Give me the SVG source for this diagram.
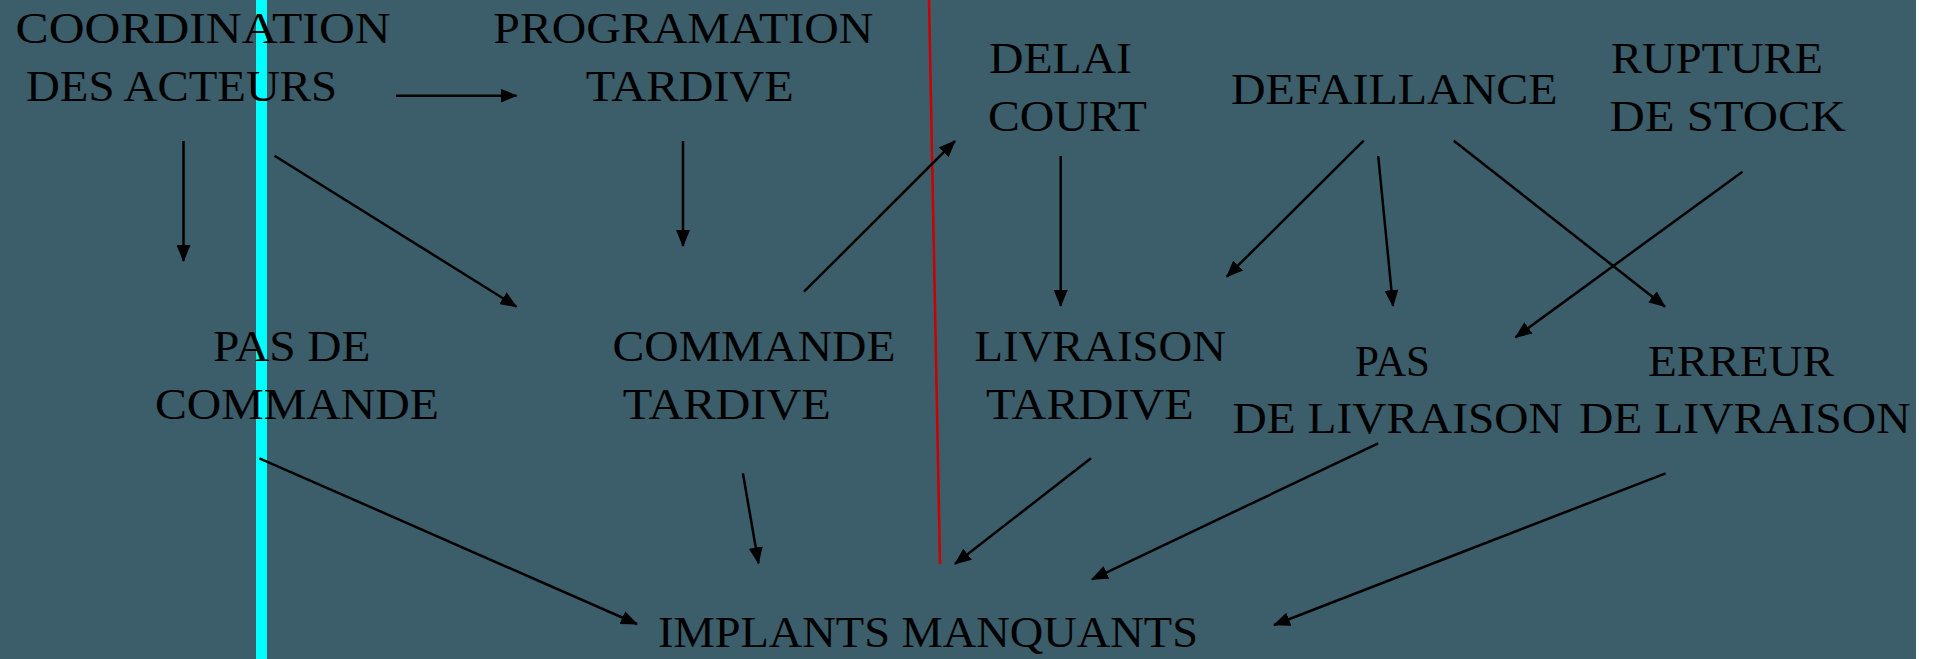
<svg xmlns="http://www.w3.org/2000/svg" width="1936" height="659" viewBox="0 0 1936 659">
<defs>
<style>
.t{font-family:"Liberation Serif","Times New Roman",serif;font-size:45px;fill:#000;}
.c line{stroke:#000;stroke-width:2.5;fill:none;}
</style>
<marker id="ah" markerUnits="userSpaceOnUse" markerWidth="17" markerHeight="14" refX="16" refY="7" orient="auto" viewBox="0 0 17 14">
<path d="M0,0 L17,7 L0,14 z" fill="#000"/>
</marker>
</defs>
<rect x="0" y="0" width="1936" height="659" fill="#ffffff"/>
<rect x="0" y="0" width="1916" height="659" fill="#3b5e6a"/>
<rect x="256" y="0" width="11" height="659" fill="#00ffff"/>
<line x1="929" y1="0" x2="940" y2="564" stroke="#cc0000" stroke-width="2.5"/>

<g id="n-coordination">
<text class="t" x="15.6" y="43.3" textLength="375" lengthAdjust="spacingAndGlyphs">COORDINATION</text>
<text class="t" x="26" y="100.7" textLength="311" lengthAdjust="spacingAndGlyphs">DES ACTEURS</text>
</g>
<g id="n-programation">
<text class="t" x="493.3" y="43.3" textLength="380" lengthAdjust="spacingAndGlyphs">PROGRAMATION</text>
<text class="t" x="585.7" y="100.7" textLength="208" lengthAdjust="spacingAndGlyphs">TARDIVE</text>
</g>
<g id="n-delai">
<text class="t" x="989" y="72.7" textLength="143" lengthAdjust="spacingAndGlyphs">DELAI</text>
<text class="t" x="988" y="131" textLength="159" lengthAdjust="spacingAndGlyphs">COURT</text>
</g>
<g id="n-defaillance">
<text class="t" x="1231" y="104" textLength="326.5" lengthAdjust="spacingAndGlyphs">DEFAILLANCE</text>
</g>
<g id="n-rupture">
<text class="t" x="1611" y="72.7" textLength="212" lengthAdjust="spacingAndGlyphs">RUPTURE</text>
<text class="t" x="1609.6" y="131" textLength="236" lengthAdjust="spacingAndGlyphs">DE STOCK</text>
</g>
<g id="n-pasdecommande">
<text class="t" x="213" y="361" textLength="157.5" lengthAdjust="spacingAndGlyphs">PAS DE</text>
<text class="t" x="155" y="419" textLength="284" lengthAdjust="spacingAndGlyphs">COMMANDE</text>
</g>
<g id="n-commandetardive">
<text class="t" x="612.5" y="361" textLength="283" lengthAdjust="spacingAndGlyphs">COMMANDE</text>
<text class="t" x="622.8" y="419" textLength="208" lengthAdjust="spacingAndGlyphs">TARDIVE</text>
</g>
<g id="n-livraisontardive">
<text class="t" x="974.6" y="361" textLength="251.3" lengthAdjust="spacingAndGlyphs">LIVRAISON</text>
<text class="t" x="986" y="419" textLength="207.8" lengthAdjust="spacingAndGlyphs">TARDIVE</text>
</g>
<g id="n-pasdelivraison">
<text class="t" x="1355" y="376" textLength="75" lengthAdjust="spacingAndGlyphs">PAS</text>
<text class="t" x="1232.6" y="433.3" textLength="330" lengthAdjust="spacingAndGlyphs">DE LIVRAISON</text>
</g>
<g id="n-erreur">
<text class="t" x="1648" y="376" textLength="186" lengthAdjust="spacingAndGlyphs">ERREUR</text>
<text class="t" x="1579" y="433.3" textLength="331.5" lengthAdjust="spacingAndGlyphs">DE LIVRAISON</text>
</g>
<g id="n-implants">
<text class="t" x="658" y="646.7" textLength="540" lengthAdjust="spacingAndGlyphs">IMPLANTS MANQUANTS</text>
</g>

<g id="connectors" class="c">
<line x1="396" y1="95.7" x2="516.5" y2="95.7" marker-end="url(#ah)"/>
<line x1="183.5" y1="141" x2="183.5" y2="261" marker-end="url(#ah)"/>
<line x1="274.5" y1="155.7" x2="516.5" y2="306.7" marker-end="url(#ah)"/>
<line x1="683" y1="141" x2="683" y2="246" marker-end="url(#ah)"/>
<line x1="804" y1="291.7" x2="955" y2="141" marker-end="url(#ah)"/>
<line x1="1060.7" y1="156" x2="1060.7" y2="306" marker-end="url(#ah)"/>
<line x1="1363.7" y1="140.7" x2="1226.8" y2="276.7" marker-end="url(#ah)"/>
<line x1="1378.2" y1="156" x2="1393" y2="306" marker-end="url(#ah)"/>
<line x1="1453.8" y1="140.7" x2="1665" y2="306.7" marker-end="url(#ah)"/>
<line x1="1742.5" y1="171.7" x2="1515.5" y2="337.3" marker-end="url(#ah)"/>
<line x1="259.4" y1="458.3" x2="637" y2="624" marker-end="url(#ah)"/>
<line x1="742.9" y1="473.3" x2="758.5" y2="563.3" marker-end="url(#ah)"/>
<line x1="1091" y1="458.3" x2="955" y2="564" marker-end="url(#ah)"/>
<line x1="1378.2" y1="443.3" x2="1092" y2="579.3" marker-end="url(#ah)"/>
<line x1="1665.6" y1="473.3" x2="1274" y2="625" marker-end="url(#ah)"/>
</g>
</svg>
